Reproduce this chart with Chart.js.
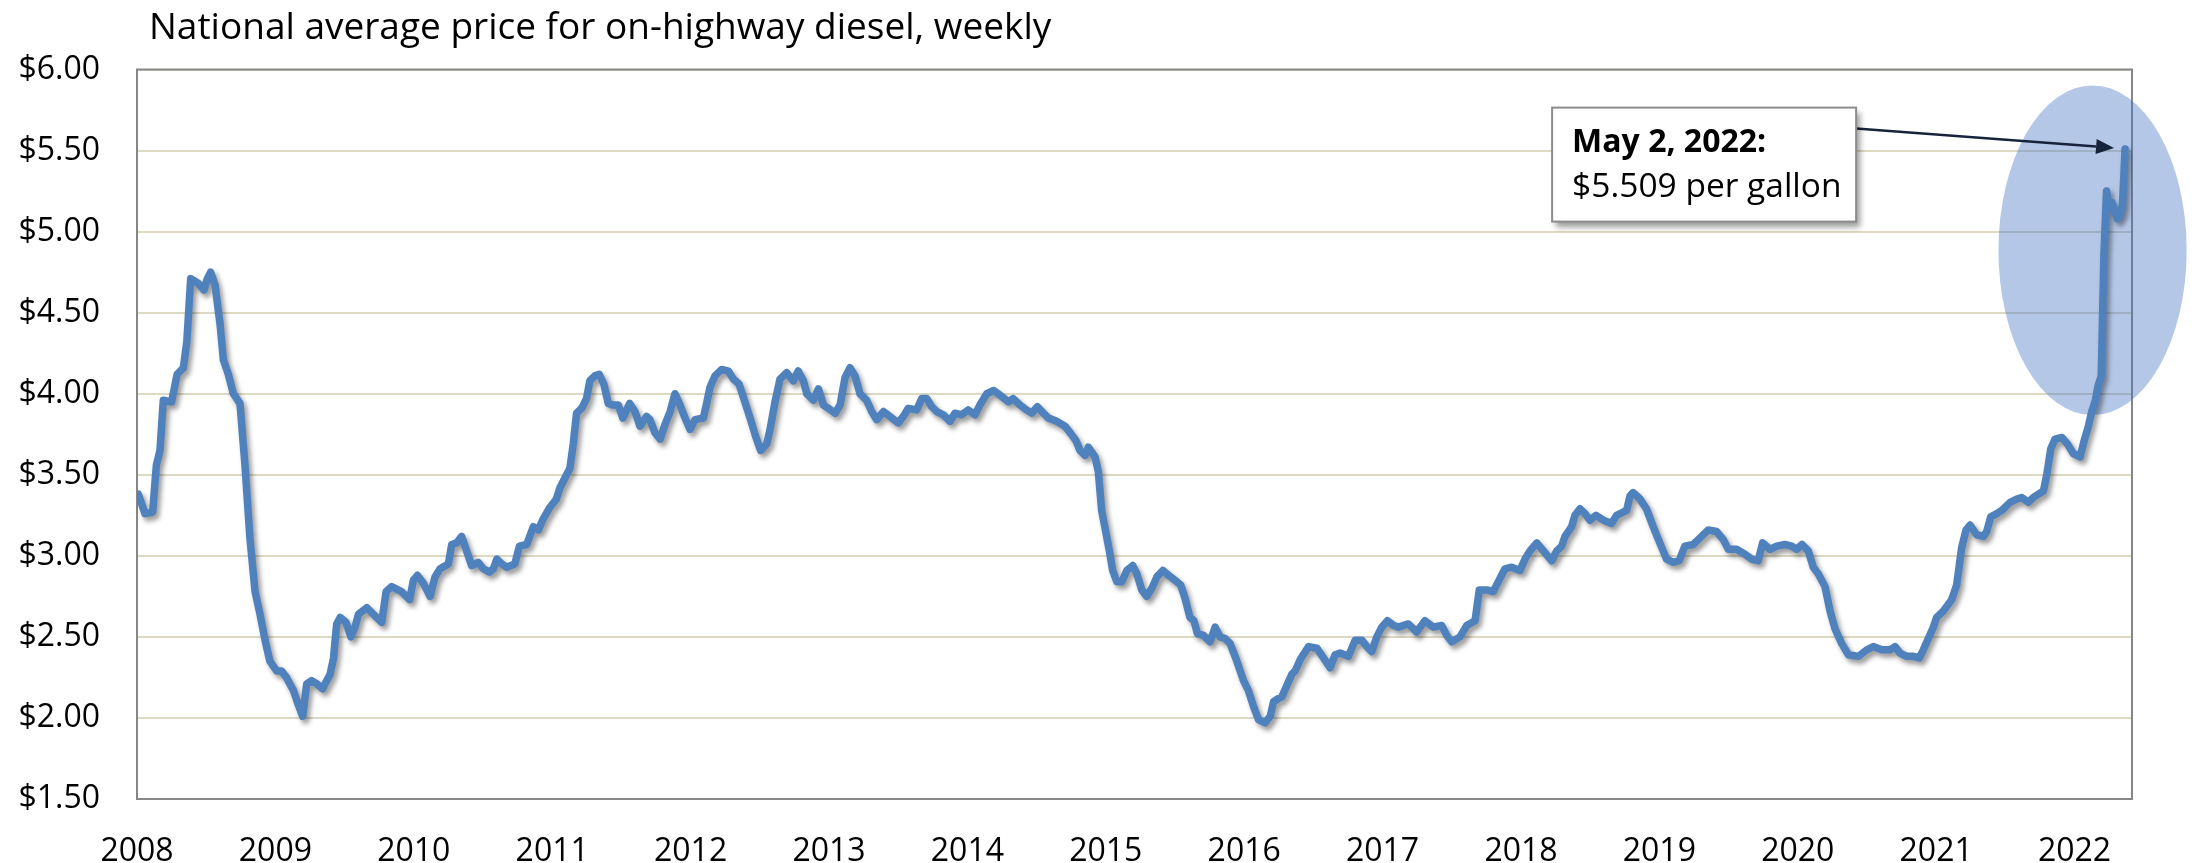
<!DOCTYPE html>
<html>
<head>
<meta charset="utf-8">
<title>Diesel price</title>
<script src="https://cdn.jsdelivr.net/npm/chart.js@4.4.1/dist/chart.umd.min.js"></script>
<style>
  html, body { margin: 0; padding: 0; background: #fff; }
  #wrap { width: 2199px; height: 863px; position: relative; }
</style>
</head>
<body>
<div id="wrap"><canvas id="dieselChart"></canvas></div>
<script>
// weekly on-highway diesel (x = decimal year)
const weekYears = [
  2008.010, 2008.058, 2008.113, 2008.140, 2008.166, 2008.190, 2008.250, 2008.290, 2008.335, 2008.360,
  2008.388, 2008.443, 2008.484, 2008.508, 2008.532, 2008.564, 2008.600, 2008.624, 2008.660, 2008.696,
  2008.744, 2008.780, 2008.816, 2008.853, 2008.889, 2008.925, 2008.960, 2009.009, 2009.045, 2009.080,
  2009.130, 2009.166, 2009.197, 2009.226, 2009.262, 2009.300, 2009.340, 2009.395, 2009.420, 2009.443,
  2009.468, 2009.510, 2009.545, 2009.575, 2009.600, 2009.660, 2009.707, 2009.768, 2009.800, 2009.840,
  2009.910, 2009.970, 2009.997, 2010.026, 2010.070, 2010.117, 2010.153, 2010.190, 2010.250, 2010.274,
  2010.310, 2010.346, 2010.382, 2010.418, 2010.466, 2010.502, 2010.546, 2010.575, 2010.600, 2010.635,
  2010.670, 2010.730, 2010.763, 2010.816, 2010.864, 2010.900, 2010.936, 2010.984, 2011.030, 2011.056,
  2011.092, 2011.128, 2011.152, 2011.176, 2011.213, 2011.248, 2011.272, 2011.308, 2011.340, 2011.373,
  2011.405, 2011.440, 2011.478, 2011.510, 2011.560, 2011.598, 2011.634, 2011.682, 2011.706, 2011.742,
  2011.780, 2011.815, 2011.852, 2011.887, 2011.924, 2011.960, 2011.996, 2012.032, 2012.092, 2012.116,
  2012.140, 2012.176, 2012.225, 2012.273, 2012.310, 2012.350, 2012.392, 2012.430, 2012.465, 2012.506,
  2012.550, 2012.574, 2012.610, 2012.646, 2012.694, 2012.742, 2012.778, 2012.815, 2012.840, 2012.887,
  2012.924, 2012.960, 2012.996, 2013.044, 2013.080, 2013.116, 2013.152, 2013.188, 2013.224, 2013.272,
  2013.308, 2013.345, 2013.393, 2013.440, 2013.500, 2013.537, 2013.573, 2013.633, 2013.670, 2013.706,
  2013.742, 2013.778, 2013.826, 2013.874, 2013.910, 2013.958, 2014.006, 2014.055, 2014.090, 2014.140,
  2014.190, 2014.236, 2014.296, 2014.330, 2014.380, 2014.428, 2014.465, 2014.505, 2014.549, 2014.585,
  2014.645, 2014.705, 2014.742, 2014.785, 2014.814, 2014.850, 2014.874, 2014.922, 2014.946, 2014.970,
  2014.995, 2015.026, 2015.050, 2015.080, 2015.116, 2015.152, 2015.195, 2015.224, 2015.260, 2015.296,
  2015.333, 2015.369, 2015.412, 2015.453, 2015.500, 2015.541, 2015.572, 2015.608, 2015.637, 2015.662,
  2015.705, 2015.753, 2015.790, 2015.826, 2015.862, 2015.898, 2015.947, 2015.995, 2016.030, 2016.068,
  2016.104, 2016.152, 2016.188, 2016.212, 2016.248, 2016.272, 2016.308, 2016.344, 2016.368, 2016.405,
  2016.465, 2016.525, 2016.573, 2016.620, 2016.657, 2016.693, 2016.753, 2016.802, 2016.850, 2016.886,
  2016.922, 2016.958, 2016.994, 2017.035, 2017.080, 2017.114, 2017.186, 2017.246, 2017.306, 2017.366,
  2017.427, 2017.463, 2017.499, 2017.559, 2017.608, 2017.668, 2017.699, 2017.752, 2017.800, 2017.848,
  2017.884, 2017.932, 2017.993, 2018.029, 2018.065, 2018.114, 2018.162, 2018.222, 2018.258, 2018.294,
  2018.318, 2018.366, 2018.390, 2018.426, 2018.463, 2018.499, 2018.542, 2018.595, 2018.655, 2018.691,
  2018.763, 2018.788, 2018.810, 2018.860, 2018.907, 2018.955, 2019.003, 2019.052, 2019.100, 2019.143,
  2019.184, 2019.244, 2019.305, 2019.353, 2019.413, 2019.462, 2019.498, 2019.558, 2019.618, 2019.666,
  2019.714, 2019.746, 2019.800, 2019.848, 2019.908, 2019.956, 2019.992, 2020.030, 2020.076, 2020.112,
  2020.148, 2020.197, 2020.233, 2020.269, 2020.317, 2020.366, 2020.438, 2020.498, 2020.546, 2020.606,
  2020.666, 2020.703, 2020.739, 2020.787, 2020.835, 2020.878, 2020.907, 2020.943, 2020.980, 2021.003,
  2021.052, 2021.112, 2021.148, 2021.184, 2021.216, 2021.245, 2021.293, 2021.341, 2021.365, 2021.394,
  2021.438, 2021.474, 2021.534, 2021.582, 2021.618, 2021.666, 2021.703, 2021.739, 2021.775, 2021.799,
  2021.828, 2021.859, 2021.908, 2021.949, 2021.992, 2022.040, 2022.069, 2022.100, 2022.124, 2022.148,
  2022.170, 2022.193, 2022.212, 2022.231, 2022.250, 2022.269, 2022.288, 2022.308, 2022.327, 2022.346,
  2022.365
];
const prices = [
  3.38, 3.26, 3.27, 3.56, 3.65, 3.96, 3.95, 4.12, 4.16, 4.32,
  4.71, 4.68, 4.64, 4.71, 4.75, 4.67, 4.43, 4.21, 4.12, 4.00,
  3.94, 3.56, 3.11, 2.78, 2.64, 2.48, 2.35, 2.29, 2.29, 2.25,
  2.17, 2.08, 2.01, 2.21, 2.23, 2.21, 2.18, 2.27, 2.37, 2.58,
  2.62, 2.59, 2.50, 2.56, 2.64, 2.68, 2.64, 2.59, 2.78, 2.81,
  2.78, 2.73, 2.85, 2.88, 2.83, 2.75, 2.87, 2.92, 2.95, 3.07,
  3.08, 3.12, 3.03, 2.94, 2.96, 2.92, 2.90, 2.92, 2.98, 2.95,
  2.93, 2.95, 3.06, 3.07, 3.18, 3.16, 3.23, 3.30, 3.35, 3.42,
  3.48, 3.54, 3.69, 3.88, 3.91, 3.97, 4.08, 4.11, 4.12, 4.06,
  3.94, 3.93, 3.93, 3.85, 3.94, 3.89, 3.80, 3.86, 3.84, 3.76,
  3.72, 3.81, 3.89, 4.00, 3.93, 3.85, 3.78, 3.84, 3.85, 3.94,
  4.04, 4.11, 4.15, 4.14, 4.09, 4.06, 3.95, 3.85, 3.75, 3.65,
  3.69, 3.78, 3.95, 4.09, 4.13, 4.08, 4.14, 4.08, 4.00, 3.96,
  4.03, 3.93, 3.91, 3.88, 3.93, 4.10, 4.16, 4.11, 4.00, 3.96,
  3.89, 3.84, 3.89, 3.86, 3.82, 3.86, 3.91, 3.90, 3.97, 3.97,
  3.92, 3.89, 3.87, 3.83, 3.88, 3.87, 3.90, 3.87, 3.93, 4.00,
  4.02, 3.99, 3.95, 3.97, 3.93, 3.90, 3.88, 3.92, 3.88, 3.85,
  3.83, 3.80, 3.76, 3.71, 3.65, 3.62, 3.67, 3.61, 3.52, 3.28,
  3.17, 3.03, 2.91, 2.84, 2.84, 2.91, 2.94, 2.89, 2.79, 2.75,
  2.80, 2.87, 2.91, 2.88, 2.85, 2.82, 2.74, 2.62, 2.60, 2.52,
  2.51, 2.47, 2.56, 2.50, 2.49, 2.46, 2.35, 2.23, 2.17, 2.07,
  1.99, 1.97, 2.01, 2.10, 2.12, 2.13, 2.20, 2.27, 2.29, 2.36,
  2.44, 2.43, 2.37, 2.31, 2.39, 2.40, 2.38, 2.48, 2.48, 2.44,
  2.41, 2.50, 2.56, 2.60, 2.57, 2.56, 2.58, 2.53, 2.60, 2.56,
  2.57, 2.51, 2.47, 2.50, 2.57, 2.60, 2.79, 2.79, 2.78, 2.86,
  2.92, 2.93, 2.91, 2.98, 3.03, 3.08, 3.03, 2.97, 3.03, 3.06,
  3.12, 3.18, 3.25, 3.29, 3.26, 3.22, 3.25, 3.22, 3.20, 3.25,
  3.28, 3.37, 3.39, 3.35, 3.29, 3.18, 3.08, 2.98, 2.96, 2.97,
  3.06, 3.07, 3.12, 3.16, 3.15, 3.10, 3.04, 3.04, 3.01, 2.98,
  2.97, 3.08, 3.04, 3.06, 3.07, 3.06, 3.04, 3.07, 3.03, 2.93,
  2.89, 2.81, 2.66, 2.55, 2.46, 2.39, 2.38, 2.42, 2.44, 2.42,
  2.42, 2.44, 2.40, 2.38, 2.38, 2.37, 2.42, 2.49, 2.56, 2.62,
  2.66, 2.73, 2.82, 3.05, 3.16, 3.19, 3.13, 3.12, 3.15, 3.24,
  3.26, 3.28, 3.33, 3.35, 3.36, 3.33, 3.36, 3.38, 3.40, 3.50,
  3.66, 3.72, 3.73, 3.69, 3.63, 3.61, 3.71, 3.80, 3.89, 3.95,
  4.05, 4.11, 4.85, 5.25, 5.14, 5.18, 5.14, 5.08, 5.10, 5.16,
  5.51
];
const yearTicks = [2008, 2009, 2010, 2011, 2012, 2013, 2014, 2015, 2016, 2017, 2018, 2019, 2020, 2021, 2022];
const titleText = 'National average price for on-highway diesel, weekly';
const calloutLines = ['May 2, 2022:', '$5.509 per gallon'];

// highlight ring and callout anchors, in data units
const ringCenter = [2022.13, 4.885];
const ringRadius = [0.68, 1.017];
const boxAnchor = [2018.225, 5.765];

const points = weekYears.map(function(x, i) { return {x: x, y: prices[i]}; });

const decor = {
    id: 'decor',
    beforeDatasetsDraw: function(chart) {
        const ctx = chart.ctx, a = chart.chartArea;
        const xs = chart.scales.x, ys = chart.scales.y;
        ctx.save();
        ctx.strokeStyle = '#868686';
        ctx.lineWidth = 2;
        ctx.strokeRect(a.left, a.top, a.right - a.left, a.bottom - a.top);

        const cx = xs.getPixelForValue(ringCenter[0]);
        const cy = ys.getPixelForValue(ringCenter[1]);
        const rx = xs.getPixelForValue(ringCenter[0] + ringRadius[0]) - cx;
        const ry = cy - ys.getPixelForValue(ringCenter[1] + ringRadius[1]);
        ctx.fillStyle = 'rgba(68,114,196,0.4)';
        ctx.beginPath();
        ctx.ellipse(cx, cy, rx, ry, 0, 0, Math.PI * 2);
        ctx.fill();
        ctx.restore();
    },
    beforeDatasetDraw: function(chart) {
        const ctx = chart.ctx;
        ctx.save();
        ctx.shadowColor = 'rgba(0,0,0,0.4)';
        ctx.shadowBlur = 5;
        ctx.shadowOffsetX = 3;
        ctx.shadowOffsetY = 4;
    },
    afterDatasetDraw: function(chart) {
        chart.ctx.restore();
    },
    afterDraw: function(chart) {
        const ctx = chart.ctx;
        const xs = chart.scales.x, ys = chart.scales.y;
        ctx.save();

        // title
        ctx.fillStyle = '#000';
        ctx.font = '37px "Open Sans"';
        ctx.textBaseline = 'alphabetic';
        ctx.fillText(titleText, 149, 39);

        // callout box
        const bx = xs.getPixelForValue(boxAnchor[0]);
        const by = ys.getPixelForValue(boxAnchor[1]);
        const bw = 304, bh = 114;

        // arrow to the last point
        const last = points.length - 1;
        const px = xs.getPixelForValue(points[last].x) - 11;
        const py = ys.getPixelForValue(points[last].y) - 1;
        const sx = bx + bw, sy = by + 21;
        const ang = Math.atan2(py - sy, px - sx);
        const headLen = 18, headW = 7.5;
        const hx = px - headLen * Math.cos(ang), hy = py - headLen * Math.sin(ang);
        ctx.strokeStyle = '#17223b';
        ctx.fillStyle = '#17223b';
        ctx.lineWidth = 2.5;
        ctx.beginPath();
        ctx.moveTo(sx, sy);
        ctx.lineTo(hx, hy);
        ctx.stroke();
        ctx.beginPath();
        ctx.moveTo(px, py);
        ctx.lineTo(hx + headW * Math.sin(ang), hy - headW * Math.cos(ang));
        ctx.lineTo(hx - headW * Math.sin(ang), hy + headW * Math.cos(ang));
        ctx.closePath();
        ctx.fill();

        ctx.save();
        ctx.shadowColor = 'rgba(0,0,0,0.4)';
        ctx.shadowBlur = 6;
        ctx.shadowOffsetX = 4;
        ctx.shadowOffsetY = 5;
        ctx.fillStyle = '#fff';
        ctx.fillRect(bx, by, bw, bh);
        ctx.restore();
        ctx.strokeStyle = '#8c8c8c';
        ctx.lineWidth = 2;
        ctx.strokeRect(bx, by, bw, bh);

        ctx.fillStyle = '#000';
        ctx.font = 'bold 32px "Open Sans"';
        ctx.fillText(calloutLines[0], bx + 20, by + 44);
        ctx.font = '33.5px "Open Sans"';
        ctx.fillText(calloutLines[1], bx + 20, by + 89);
        ctx.restore();
    }
};

new Chart(document.getElementById('dieselChart'), {
    type: 'line',
    data: {
        datasets: [{
            data: points,
            borderColor: '#4f81bd',
            borderWidth: 7.5,
            pointRadius: 0,
            tension: 0,
            fill: false,
            borderJoinStyle: 'round',
            borderCapStyle: 'round'
        }]
    },
    options: {
        responsive: true,
        maintainAspectRatio: false,
        devicePixelRatio: 1,
        animation: false,
        layout: {
            padding: { top: 69.5, right: 67, left: 0, bottom: 0 }
        },
        plugins: {
            legend: { display: false },
            tooltip: { enabled: false },
            title: { display: false }
        },
        scales: {
            x: {
                type: 'linear',
                min: 2008,
                max: 2022.415,
                afterBuildTicks: function(scale) {
                    scale.ticks = yearTicks.map(function(v) { return {value: v}; });
                },
                afterFit: function(scale) { scale.height = 64; },
                grid: { display: false },
                border: { display: false },
                ticks: {
                    autoSkip: false,
                    maxRotation: 0,
                    padding: 26,
                    color: '#000',
                    font: { family: 'Open Sans', size: 32 },
                    callback: function(v) { return String(v); }
                }
            },
            y: {
                min: 1.5,
                max: 6,
                afterFit: function(scale) { scale.width = 137; },
                grid: { color: '#ddd9c3', lineWidth: 2, drawTicks: false },
                border: { display: false },
                ticks: {
                    stepSize: 0.5,
                    padding: 37,
                    color: '#000',
                    font: { family: 'Open Sans', size: 32 },
                    callback: function(v) { return '$' + v.toFixed(2); }
                }
            }
        }
    },
    plugins: [decor]
});
</script>
</body>
</html>
